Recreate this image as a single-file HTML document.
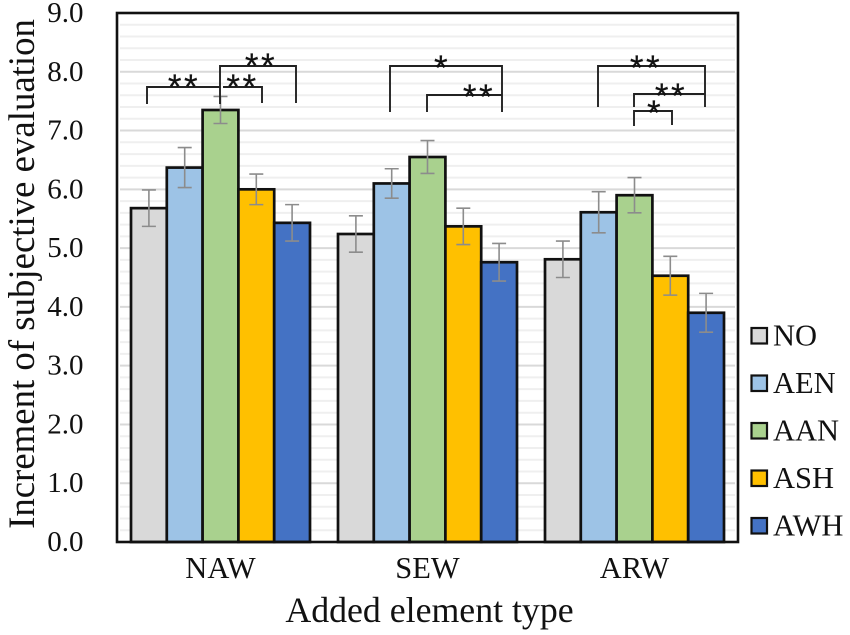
<!DOCTYPE html>
<html lang="en">
<head>
<meta charset="utf-8">
<title>Increment of subjective evaluation by added element type</title>
<style>
html,body{margin:0;padding:0;background:#fff;}
#chart{display:block;width:850px;height:635px;font-family:"Liberation Serif",serif;fill:#111;filter:blur(0.35px);}
.star{font-family:"Liberation Sans",sans-serif;font-size:35px;letter-spacing:2.5px;text-anchor:middle;fill:#111;stroke:#111;stroke-width:0.2;}
.bracket{fill:none;stroke:#222;stroke-width:1.9;}
</style>
</head>
<body>
<svg id="chart" xmlns="http://www.w3.org/2000/svg" width="850" height="635" viewBox="0 0 850 635">
  <g id="gridlines"></g>
  <g id="bars"></g>
  <g id="errors"></g>
  <rect x="117" y="13" width="621" height="529" fill="none" stroke="#111" stroke-width="2.6"/>
  <g id="y-ticks"></g>
  <g id="x-ticks"></g>
  <text transform="translate(34,274) rotate(-90)" text-anchor="middle" font-size="36.8">Increment of subjective evaluation</text>
  <text x="429.5" y="622" text-anchor="middle" font-size="35.8">Added element type</text>
  <g id="legend"></g>
  <g>
    <path class="bracket" d="M147 104V87H220"/>
    <path class="bracket" d="M223 87H262V103"/>
    <path class="bracket" d="M220 104V66H296V103"/>
    <text class="star" x="184" y="99">**</text>
    <text class="star" x="242.5" y="99">**</text>
    <text class="star" x="261" y="78">**</text>
  </g>
  <g>
    <path class="bracket" d="M390 112V66H502V112"/>
    <path class="bracket" d="M427 112V95H502"/>
    <text class="star" x="442" y="80">*</text>
    <text class="star" x="479" y="109">**</text>
  </g>
  <g>
    <path class="bracket" d="M598 107V66H705V107"/>
    <path class="bracket" d="M634 107V94H705"/>
    <path class="bracket" d="M634 126V111H672V125"/>
    <text class="star" x="646" y="80">**</text>
    <text class="star" x="671" y="108">**</text>
    <text class="star" x="655" y="125">*</text>
  </g>
</svg>
<script>
var categories = ['NAW', 'SEW', 'ARW'];
var seriesNames = ['NO', 'AEN', 'AAN', 'ASH', 'AWH'];
var seriesColors = ['#d9d9d9', '#9dc3e6', '#a9d18e', '#ffc000', '#4472c4'];
var valuesNO = [5.68, 5.24, 4.81];
var valuesAEN = [6.37, 6.10, 5.61];
var valuesAAN = [7.35, 6.55, 5.90];
var valuesASH = [6.00, 5.37, 4.53];
var valuesAWH = [5.43, 4.76, 3.90];
var errorsNO = [0.31, 0.31, 0.31];
var errorsAEN = [0.34, 0.25, 0.35];
var errorsAAN = [0.23, 0.28, 0.30];
var errorsASH = [0.26, 0.31, 0.33];
var errorsAWH = [0.31, 0.32, 0.33];
var yTickLabels = ['0.0', '1.0', '2.0', '3.0', '4.0', '5.0', '6.0', '7.0', '8.0', '9.0'];
var yMax = 9;
var minorStep = 0.2;

var seriesValues = [valuesNO, valuesAEN, valuesAAN, valuesASH, valuesAWH];
var seriesErrors = [errorsNO, errorsAEN, errorsAAN, errorsASH, errorsAWH];

var SVG_NS = 'http://www.w3.org/2000/svg';
var plotLeft = 117, plotRight = 738, plotTop = 13, plotBottom = 542;
var firstGroupLeft = 131, groupStep = 207, barWidth = 35.8, capHalf = 7;

function yScale(v) {
  return plotBottom - (v / yMax) * (plotBottom - plotTop);
}
function xScale(groupIndex, seriesIndex) {
  return firstGroupLeft + groupIndex * groupStep + seriesIndex * barWidth;
}
function make(tag, attrs, parent) {
  var el = document.createElementNS(SVG_NS, tag);
  for (var k in attrs) el.setAttribute(k, attrs[k]);
  parent.appendChild(el);
  return el;
}

var gridG = document.getElementById('gridlines');
var minorCount = Math.round(yMax / minorStep);
for (var m = 1; m < minorCount; m++) {
  var gv = m * minorStep;
  var isMajor = m % 5 === 0;
  var gridLine = make('line', {
    x1: plotLeft + 3, x2: plotRight - 3, y1: yScale(gv), y2: yScale(gv),
    stroke: isMajor ? '#d9d9d9' : '#efefef', 'stroke-width': 2
  }, gridG);
  
  
}

var barsG = document.getElementById('bars');
var errG = document.getElementById('errors');
categories.forEach(function (cat, g) {
  seriesNames.forEach(function (name, s) {
    var v = seriesValues[s][g];
    var e = seriesErrors[s][g];
    var x = xScale(g, s);
    var bar = make('rect', {
      x: x, y: yScale(v), width: barWidth, height: plotBottom - yScale(v),
      fill: seriesColors[s], stroke: '#111', 'stroke-width': 2.7
    }, barsG);
    
    

    var cx = x + barWidth / 2;
    var yHi = yScale(v + e), yLo = yScale(v - e);
    var err = make('path', {
      d: 'M' + cx + ' ' + yHi + 'V' + yLo +
         'M' + (cx - capHalf) + ' ' + yHi + 'H' + (cx + capHalf) +
         'M' + (cx - capHalf) + ' ' + yLo + 'H' + (cx + capHalf),
      fill: 'none', stroke: '#8c8c8c', 'stroke-width': 1.6
    }, errG);
    
    
  });
});

var yG = document.getElementById('y-ticks');
yTickLabels.forEach(function (label, i) {
  var t = make('text', { x: 83.5, y: yScale(i) + 9, 'text-anchor': 'end', 'font-size': 29 }, yG);
  t.textContent = label;
  
  
});

var xG = document.getElementById('x-ticks');
categories.forEach(function (cat, g) {
  var cx = xScale(g, 2.5);
  var t = make('text', { x: cx, y: 578, 'text-anchor': 'middle', 'font-size': 30.5 }, xG);
  t.textContent = cat;
  
  
});

var legendG = document.getElementById('legend');
seriesNames.forEach(function (name, s) {
  var top = 328 + s * 47.5;
  var row = make('g', {}, legendG);
  
  
  var sw = make('rect', {
    x: 751.5, y: top, width: 15.5, height: 15.5,
    fill: seriesColors[s], stroke: '#111', 'stroke-width': 2.2
  }, row);
  
  
  var label = make('text', { x: 773, y: top + 17.5, 'font-size': 30.5 }, row);
  label.textContent = name;
  
  
});
</script>
</body>
</html>
